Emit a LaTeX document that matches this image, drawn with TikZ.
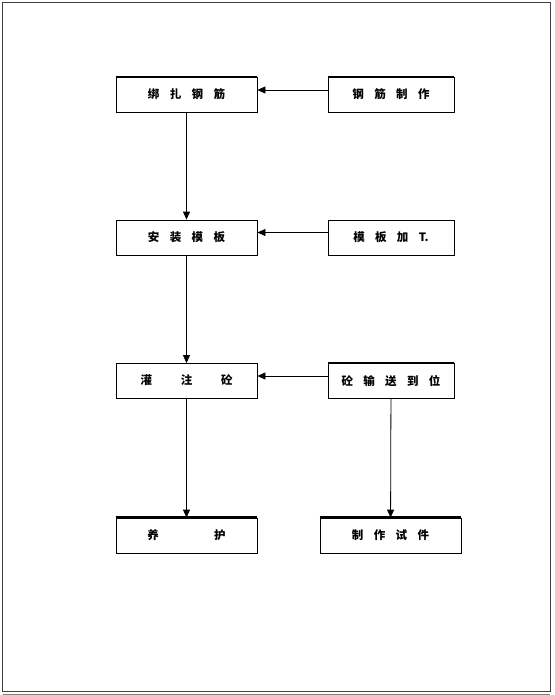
\documentclass[tikz,border=0pt]{standalone}
\usepackage{fontspec}
\newfontfamily\cjk{Noto Sans CJK SC}
\usetikzlibrary{arrows.meta,positioning}
\newcommand{\sk}{\hspace{0.9em}}

\begin{document}
\begin{tikzpicture}[x=1pt,y=-1pt,
  box/.style={rectangle,draw,line width=0.8pt,minimum height=35pt,inner sep=0pt,font=\cjk\bfseries\fontsize{11.5}{13}\selectfont},
  wide/.style={box,minimum width=141pt},
  narrow/.style={box,minimum width=126pt},
  arr/.style={-{Triangle[length=8pt,width=7pt]},line width=0.8pt}]
  \useasboundingbox (0,0) rectangle (554,695);
  % page frame
  \draw[line width=1pt,black!75] (2.5,3) rectangle (550,691);
  \draw[gray] (2.5,694) -- (550,694);
  % left column
  \node[wide] (bang) at (186.5,95) {\raisebox{2pt}{绑\sk{}扎\sk{}钢\sk{}筋}};
  \node[wide] (anzh) at (186.5,237.5) {\raisebox{2pt}{安\sk{}装\sk{}模\sk{}板}};
  \node[wide] (guan) at (186.5,381) {\raisebox{2pt}{灌\hspace{2.5em}注\hspace{2.5em}砼}};
  \node[wide] (yang) at (186.5,535.5) {\raisebox{2pt}{养\hspace{4.8em}护}};
  % right column
  \node[narrow] (gjzz) at (391,95) {\raisebox{2pt}{钢\sk{}筋\sk{}制\sk{}作}};
  \node[narrow] (mbjg) at (391,237.5) {\raisebox{2pt}{模\sk{}板\sk{}加\sk{}T.}};
  \node[narrow] (tong) at (391,381) {\raisebox{2pt}{砼\sk{}输\sk{}送\sk{}到\sk{}位}};
  \node[wide] (shij) at (390.5,535.5) {\raisebox{2pt}{制\sk{}作\sk{}试\sk{}件}};
  % thick top edges
  \foreach \n in {bang,gjzz,tong,yang,shij}
    \draw[line width=2.5pt] (\n.north west) -- (\n.north east);
  % arrows
  \draw[arr] (bang) -- (anzh);
  \draw[arr] (anzh) -- (guan);
  \draw[arr] (guan) -- (yang);
  \draw[arr] (tong) -- (shij);
  \draw[arr] ([yshift=5pt]gjzz.west) -- ([yshift=5pt]bang.east);
  \draw[arr] ([yshift=5pt]mbjg.west) -- ([yshift=5pt]anzh.east);
  \draw[arr] ([yshift=5pt]tong.west) -- ([yshift=5pt]guan.east);
\end{tikzpicture}
\end{document}
